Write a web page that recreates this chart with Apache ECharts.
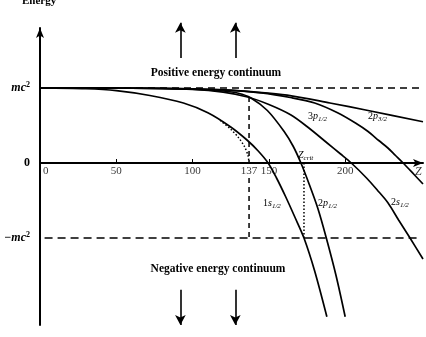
<!DOCTYPE html>
<html>
<head>
<meta charset="utf-8">
<script src="https://cdn.jsdelivr.net/npm/echarts@6/dist/echarts.min.js"></script>
<style>
html, body { margin: 0; padding: 0; background: #fff; }
#chart { width: 426px; height: 337px; }
</style>
</head>
<body>
<div id="chart"></div>
<script>
// bound state energies E (units of mc^2) against nuclear charge Z
var level1s12 = [[0, 1], [30, 0.99], [50, 0.965], [72, 0.9], [94, 0.8], [110, 0.67], [125, 0.48], [136, 0.3], [143, 0.16], [149.5, 0], [155, -0.2], [161, -0.45], [167, -0.72], [173, -1], [180, -1.44], [188, -2.05]];
var level2p12 = [[0, 1], [60, 0.997], [100, 0.985], [120, 0.96], [130, 0.93], [138, 0.87], [149, 0.7], [160, 0.42], [166, 0.22], [171, 0], [176, -0.26], [182, -0.6], [187.5, -0.99], [194, -1.5], [200, -2.05]];
var level2s12 = [[0, 1], [60, 0.997], [100, 0.98], [120, 0.945], [136, 0.88], [150, 0.78], [164.5, 0.64], [176, 0.47], [188, 0.27], [197, 0.12], [204, 0], [214, -0.2], [221, -0.36], [228, -0.53], [235, -0.76], [242.5, -1], [251, -1.28]];
var level3p12 = [[0, 1], [80, 0.997], [120, 0.975], [145, 0.935], [165, 0.87], [180, 0.8], [195, 0.67], [207, 0.53], [215, 0.42], [222, 0.3], [228, 0.2], [233, 0.1], [238, 0], [245, -0.15], [251, -0.28]];
var level2p32 = [[0, 1], [80, 0.997], [120, 0.975], [140, 0.948], [162, 0.905], [190, 0.8], [215, 0.7], [251, 0.55]];
// point nucleus 1s1/2 (dotted), ends at Z = 137
var point1s12 = [[118, 0.57], [125, 0.45], [130, 0.34], [134, 0.22], [136.3, 0.1], [137, 0]];

var posLimit = [[0, 1], [249, 1]];
var negLimit = [[3, -1], [249, -1]];
var z137Upper = [[137, 0.88], [137, 0]];
var z137Lower = [[137, -0.2], [137, -1]];
var zCritLine = [[173, 0], [173, -1]];

var zTicks = [0, 50, 100, 137, 150, 200, 248];
var zTickLabels = ['0', '50', '100', '137', '150', '200', '{i|Z}'];
var zMinorTicks = [50, 100, 150, 200];
var eTicks = [1, 0, -1];
var eTickLabels = ['{i|mc}{sup|2}', '0', '\u2212{i|mc}{sup|2}'];

var arrowZ = [92, 128];
var upArrow = [1.4, 1.87];
var downArrow = [-1.69, -2.16];

var serif = '"Liberation Serif", "DejaVu Serif", serif';

var myChart = echarts.init(document.getElementById('chart'));

function curve(data, type, smooth) {
    return {
        type: 'line',
        data: data,
        symbol: 'none',
        smooth: smooth,
        silent: true,
        clip: false,
        lineStyle: { color: '#000', width: type === 'solid' ? 1.7 : 1.5, type: type }
    };
}

var solidLines = [level1s12, level2p12, level2s12, level3p12, level2p32].map(function (d) {
    return curve(d, 'solid', 0.3);
});

var extraLines = [
    curve(posLimit, [7, 5], false),
    curve(negLimit, [8, 5], false),
    curve(z137Upper, [5, 4], false),
    curve(z137Lower, [5, 4], false),
    curve(point1s12, [1.5, 2], 0.3),
    curve(zCritLine, [1.5, 2], false)
];

// tick labels of the Z axis, drawn on the E = 0 line
var zLabelSeries = {
    type: 'scatter',
    silent: true,
    symbolSize: 0,
    clip: false,
    data: zTicks.map(function (z, i) {
        var item = { value: [z, 0] };
        if (i === 0) {
            item.label = { align: 'left', offset: [3, 0] };
        }
        return item;
    }),
    label: {
        show: true,
        position: 'bottom',
        distance: 3,
        color: '#000',
        fontFamily: serif,
        fontSize: 11,
        formatter: function (p) {
            return zTickLabels[p.dataIndex];
        },
        rich: { i: { fontStyle: 'italic', fontSize: 12, fontFamily: serif, color: '#000' } }
    }
};

function label(text, x, y, size, bold) {
    return {
        type: 'text',
        x: x,
        y: y,
        silent: true,
        style: {
            text: text,
            fill: '#000',
            font: (bold ? 'bold ' : '') + size + 'px ' + serif,
            verticalAlign: 'middle',
            rich: {
                i: { fontStyle: 'italic', fontSize: size, fontFamily: serif },
                s: { fontStyle: 'italic', fontSize: size - 3, fontFamily: serif, verticalAlign: 'bottom', padding: [6, 0, 0, 0] }
            }
        }
    };
}

var option = {
    animation: false,
    backgroundColor: '#fff',
    grid: { left: 40, right: 3, top: 28, bottom: 12 },
    xAxis: {
        type: 'value',
        min: 0,
        max: 251,
        splitLine: { show: false },
        axisLine: {
            onZero: true,
            symbol: ['none', 'arrow'],
            symbolSize: [6, 10],
            lineStyle: { color: '#000', width: 2 }
        },
        axisTick: { show: true, inside: true, length: 4, customValues: zMinorTicks, lineStyle: { color: '#000' } },
        axisLabel: { show: false }
    },
    yAxis: {
        type: 'value',
        min: -2.16,
        max: 1.8,
        splitLine: { show: false },
        axisLine: {
            show: true,
            onZero: false,
            symbol: ['none', 'arrow'],
            symbolSize: [6, 10],
            lineStyle: { color: '#000', width: 2 }
        },
        axisTick: { show: false },
        axisLabel: {
            customValues: eTicks,
            margin: 10,
            color: '#000',
            fontFamily: serif,
            fontSize: 12,
            fontWeight: 'bold',
            formatter: function (v) {
                return eTickLabels[eTicks.indexOf(v)];
            },
            rich: {
                i: { fontStyle: 'italic', fontWeight: 'bold', fontSize: 12, fontFamily: serif, color: '#000' },
                sup: { fontSize: 8, fontWeight: 'bold', fontFamily: serif, color: '#000', verticalAlign: 'top', padding: [0, 0, 6, 0] }
            }
        }
    },
    graphic: [
        label('Energy', 22, 1, 11, true),
        {
            type: 'text', x: 216, y: 73, silent: true,
            style: { text: 'Positive energy continuum', fill: '#000', font: 'bold 11.5px ' + serif, align: 'center', verticalAlign: 'middle' }
        },
        {
            type: 'text', x: 218, y: 269, silent: true,
            style: { text: 'Negative energy continuum', fill: '#000', font: 'bold 11.5px ' + serif, align: 'center', verticalAlign: 'middle' }
        },
        label('3{i|p}{s|1/2}', 308, 116, 10),
        label('2{i|p}{s|3/2}', 368, 116, 10),
        label('{i|Z}{s|crit}', 298, 155, 10),
        label('1{i|s}{s|1/2}', 263, 203, 10),
        label('2{i|p}{s|1/2}', 318, 203, 10),
        label('2{i|s}{s|1/2}', 391, 202, 10)
    ],
    series: solidLines.concat(extraLines, [zLabelSeries])
};

myChart.setOption(option);

// continuum arrows: the upper ones reach past the axis range, so place them in pixels
var arrowPairs = [];
arrowZ.forEach(function (z) {
    [upArrow, downArrow].forEach(function (span) {
        var a = myChart.convertToPixel({ gridIndex: 0 }, [z, span[0]]);
        var b = myChart.convertToPixel({ gridIndex: 0 }, [z, span[1]]);
        arrowPairs.push([{ x: a[0], y: a[1] }, { x: b[0], y: b[1] }]);
    });
});

myChart.setOption({
    series: option.series.concat([{
        type: 'line',
        data: [],
        silent: true,
        markLine: {
            silent: true,
            symbol: ['none', 'arrow'],
            symbolSize: [8, 10],
            label: { show: false },
            lineStyle: { color: '#000', width: 1.6, type: 'solid' },
            emphasis: { disabled: true },
            data: arrowPairs
        }
    }])
});

window.addEventListener('resize', function () {
    myChart.resize();
});
</script>
</body>
</html>
